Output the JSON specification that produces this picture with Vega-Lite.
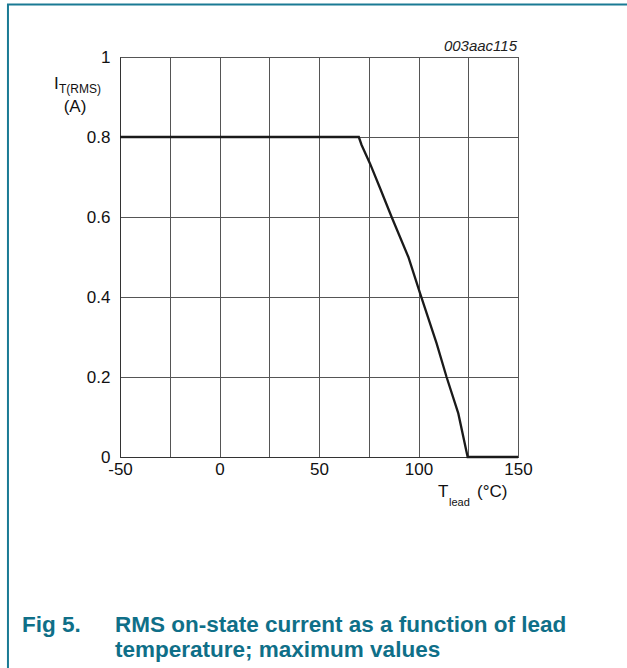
{
  "$schema": "https://vega.github.io/schema/vega-lite/v6.json",
  "width": 398,
  "height": 400,
  "autosize": {"type": "none"},
  "padding": {"left": 120, "top": 57, "right": 109, "bottom": 211},
  "background": "white",
  "config": {
    "font": "Liberation Sans",
    "view": {"stroke": "#333333", "strokeWidth": 1},
    "axis": {
      "labelFont": "Liberation Sans",
      "labelFontSize": 17,
      "labelColor": "#111111",
      "ticks": false,
      "grid": true,
      "gridColor": "#555555",
      "gridOpacity": 1,
      "gridWidth": 1,
      "domainColor": "#333333",
      "domainWidth": 1,
      "title": null
    }
  },
  "layer": [
    {
      "data": {"values": [
        {"T": -50, "I": 0.8},
        {"T": 70, "I": 0.8},
        {"T": 71.4, "I": 0.78},
        {"T": 75.6, "I": 0.734},
        {"T": 80.7, "I": 0.672},
        {"T": 86.5, "I": 0.6},
        {"T": 94.9, "I": 0.5},
        {"T": 100.8, "I": 0.409},
        {"T": 109.1, "I": 0.284},
        {"T": 114.1, "I": 0.2},
        {"T": 120, "I": 0.109},
        {"T": 124.7, "I": 0},
        {"T": 150, "I": 0}
      ]},
      "mark": {"type": "line", "color": "#1a1a1a", "strokeWidth": 2.3, "clip": false},
      "encoding": {
        "x": {
          "field": "T", "type": "quantitative",
          "scale": {"domain": [-50, 150], "nice": false, "zero": false},
          "axis": {
            "values": [-50, -25, 0, 25, 50, 75, 100, 125, 150],
            "labelExpr": "datum.value % 50 == 0 ? replace(datum.label, '\u2212', '-') : ''",
            "labelPadding": 4,
            "labelFlush": false
          }
        },
        "y": {
          "field": "I", "type": "quantitative",
          "scale": {"domain": [0, 1], "nice": false},
          "axis": {
            "values": [0, 0.1, 0.2, 0.3, 0.4, 0.5, 0.6, 0.7, 0.8, 0.9, 1],
            "labelExpr": "round(datum.value * 10) % 2 == 0 ? format(datum.value, '~g') : ''",
            "labelPadding": 10,
            "labelFlush": false
          }
        }
      }
    },
    {
      "data": {"values": [{}]},
      "mark": {"type": "rule", "color": "#1a7a94", "strokeWidth": 2, "clip": false},
      "encoding": {"x": {"datum": -106.3}, "y": {"datum": 1.131}, "y2": {"datum": -0.53}}
    },
    {
      "data": {"values": [{}]},
      "mark": {"type": "rule", "color": "#1a7a94", "strokeWidth": 2, "clip": false},
      "encoding": {"x": {"datum": -106.8}, "x2": {"datum": 206}, "y": {"datum": 1.131}}
    },
    {
      "data": {"values": [{}]},
      "mark": {"type": "text", "text": "I", "align": "left", "baseline": "alphabetic", "fontSize": 17, "color": "#111111"},
      "encoding": {"x": {"datum": -83.2}, "y": {"datum": 0.92}}
    },
    {
      "data": {"values": [{}]},
      "mark": {"type": "text", "text": "T(RMS)", "align": "left", "baseline": "alphabetic", "fontSize": 12, "color": "#111111"},
      "encoding": {"x": {"datum": -80.7}, "y": {"datum": 0.91}}
    },
    {
      "data": {"values": [{}]},
      "mark": {"type": "text", "text": "(A)", "align": "center", "baseline": "alphabetic", "fontSize": 17, "color": "#111111"},
      "encoding": {"x": {"datum": -72.6}, "y": {"datum": 0.8625}}
    },
    {
      "data": {"values": [{}]},
      "mark": {"type": "text", "text": "T", "align": "left", "baseline": "alphabetic", "fontSize": 17, "color": "#111111"},
      "encoding": {"x": {"datum": 109.8}, "y": {"datum": -0.1}}
    },
    {
      "data": {"values": [{}]},
      "mark": {"type": "text", "text": "lead", "align": "left", "baseline": "alphabetic", "fontSize": 11, "color": "#111111"},
      "encoding": {"x": {"datum": 115.3}, "y": {"datum": -0.1225}}
    },
    {
      "data": {"values": [{}]},
      "mark": {"type": "text", "text": "(°C)", "align": "left", "baseline": "alphabetic", "fontSize": 17, "color": "#111111"},
      "encoding": {"x": {"datum": 129.4}, "y": {"datum": -0.1}}
    },
    {
      "data": {"values": [{}]},
      "mark": {"type": "text", "text": "003aac115", "align": "right", "baseline": "alphabetic", "fontSize": 15, "fontStyle": "italic", "color": "#222222"},
      "encoding": {"x": {"datum": 149.5}, "y": {"datum": 1.015}}
    },
    {
      "data": {"values": [{}]},
      "mark": {"type": "text", "text": "Fig 5.", "align": "left", "baseline": "alphabetic", "fontSize": 22.5, "fontWeight": "bold", "color": "#0f6f88"},
      "encoding": {"x": {"datum": -99.2}, "y": {"datum": -0.4375}}
    },
    {
      "data": {"values": [{}]},
      "mark": {"type": "text", "text": ["RMS on-state current as a function of lead", "temperature; maximum values"], "align": "left", "baseline": "alphabetic", "lineHeight": 25, "fontSize": 22.5, "fontWeight": "bold", "color": "#0f6f88"},
      "encoding": {"x": {"datum": -52.5}, "y": {"datum": -0.4375}}
    }
  ]
}
